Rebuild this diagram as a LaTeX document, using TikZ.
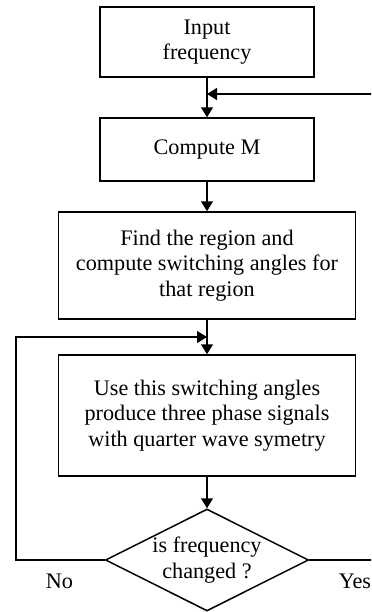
\documentclass[tikz,border=0pt]{standalone}
\usepackage{fontspec}
\setmainfont{Liberation Serif}
\usetikzlibrary{shapes.geometric,arrows.meta,positioning,calc}

\begin{document}
\begin{tikzpicture}[x=0.5pt, y=-0.5pt, line width=0.75pt,
    box/.style={draw, align=center, inner sep=0pt, font=\fontsize{11.1}{12.75}\selectfont},
    decision/.style={draw, diamond, aspect=2, align=center, inner sep=-2pt, font=\fontsize{11.1}{12.75}\selectfont},
    lbl/.style={inner sep=0pt, anchor=base west, font=\fontsize{11.1}{12.75}\selectfont},
    arr/.style={-{Triangle[length=5pt,width=6pt]}}]
    \useasboundingbox (0,0) rectangle (371,612);
    \clip (0,0) rectangle (371,612);

    % Steps
    \node[box, minimum width=107pt, minimum height=35pt] (input) at (207,42) {Input\\frequency};
    \node[box, minimum width=107pt, minimum height=31.5pt] (compm) at (207,149.5) {Compute M};
    \node[box, minimum width=148.5pt, minimum height=53.5pt] (region) at (207,265.5) {Find the region and\\compute switching angles for\\that region};
    \node[box, minimum width=148.5pt, minimum height=60.5pt] (signals) at (207,415.5) {Use this switching angles\\produce three phase signals\\with quarter wave symetry};

    % Decision
    \node[decision, minimum width=101.5pt, minimum height=51pt] (changed) at (207,560) {is frequency\\changed ?};
    \node[lbl] (no) at (45,588) {No};
    \node[lbl] (yes) at (338,588) {Yes};

    % Junctions
    \coordinate (jtop) at (207,94);
    \coordinate (jmid) at ($(region.south)!0.5!(signals.north)$);

    % Flow
    \draw[arr] (input) -- (compm);
    \draw[arr] (compm) -- (region);
    \draw[arr] (region) -- (signals);
    \draw[arr] (signals) -- (changed);

    % Loops
    \draw[arr] (changed.west) -- ++(-89,0) |- (jmid);
    \draw[arr] (changed.east) -- ++(90,0) |- (jtop);
\end{tikzpicture}
\end{document}
